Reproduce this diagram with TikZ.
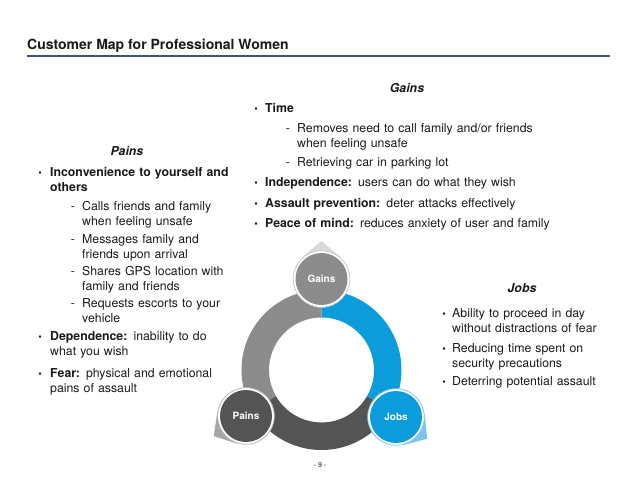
\documentclass[tikz,border=0pt]{standalone}
\usepackage{fontspec}
\setmainfont{TeX Gyre Heros}
\usepackage{xcolor}
\usepackage{tikz}
\definecolor{rulecol}{HTML}{3A5575}
\definecolor{textcol}{HTML}{1A1A1A}
\definecolor{jobsblue}{HTML}{0C9CDC}
\definecolor{jobslight}{HTML}{7CC4EA}
\definecolor{gainsgray}{HTML}{8C8C8C}
\definecolor{gainslight}{HTML}{D9D9D9}
\definecolor{painsdark}{HTML}{545454}
\definecolor{painslight}{HTML}{A6A6A6}

\tikzset{
  body/.style={anchor=base west, inner sep=0pt, text width=400pt, align=left,
    text=textcol, font=\fontsize{12.3}{15}\selectfont},
  bul/.style={anchor=base, inner sep=0pt, text=textcol, font=\fontsize{10}{12}\selectfont},
  dsh/.style={anchor=base, inner sep=0pt, text=textcol, font=\fontsize{12.3}{15}\selectfont},
  head/.style={anchor=base, inner sep=0pt, text=textcol,
    font=\fontsize{12.3}{15}\selectfont\bfseries\itshape},
  bubble/.style={circle, minimum size=52pt, inner sep=0pt, text=white,
    font=\fontsize{10}{12}\selectfont\bfseries},
}

\begin{document}
\begin{tikzpicture}[x=1pt, y=1pt]
    \useasboundingbox (0,0) rectangle (638,-479);

    % Title and rule
    \node[anchor=base west, inner sep=0pt, text=textcol,
      font=\fontsize{14}{17}\selectfont\bfseries] (title) at (27,-49.5)
      {Customer Map for Professional Women};
    \draw[rulecol, line width=1.5pt] (27,-56) -- (610,-56);

    % Ring segments
    \coordinate (ring) at (321.5,-370);
    \fill[jobsblue] ([shift={(90:80)}]ring) arc[start angle=90, end angle=-30, radius=80]
      -- ([shift={(-30:52.5)}]ring) arc[start angle=-30, end angle=90, radius=52.5] -- cycle;
    \fill[gainsgray] ([shift={(90:80)}]ring) arc[start angle=90, end angle=210, radius=80]
      -- ([shift={(210:52.5)}]ring) arc[start angle=210, end angle=90, radius=52.5] -- cycle;
    \fill[painsdark] ([shift={(210:80)}]ring) arc[start angle=210, end angle=330, radius=80]
      -- ([shift={(330:52.5)}]ring) arc[start angle=330, end angle=210, radius=52.5] -- cycle;

    % Bubble centres
    \coordinate (cg) at (321.5,-279);
    \coordinate (cp) at (246,-416);
    \coordinate (cj) at (396,-417);

    % Pointers
    \fill[gainslight] ([shift={(90:38)}]cg) -- ([shift={(130:29)}]cg) -- (cg)
      -- ([shift={(50:29)}]cg) -- cycle;
    \fill[painslight] ([shift={(212:38)}]cp) -- ([shift={(252:29)}]cp) -- (cp)
      -- ([shift={(172:29)}]cp) -- cycle;
    \fill[jobslight] ([shift={(-35:38)}]cj) -- ([shift={(5:29)}]cj) -- (cj)
      -- ([shift={(-75:29)}]cj) -- cycle;

    % Bubbles
    \filldraw[fill=white, draw=gray!45, line width=0.8pt] (cg) circle (28.3);
    \filldraw[fill=white, draw=gray!55, line width=0.8pt] (cp) circle (28.3);
    \filldraw[fill=white, draw=jobslight, line width=0.8pt] (cj) circle (28.3);
    \node[bubble, fill=gainsgray] (gains) at (cg) {Gains};
    \node[bubble, fill=painsdark] (pains) at (cp) {Pains};
    \node[bubble, fill=jobsblue] (jobs) at (cj) {Jobs};

    % Gains
    \node[head] (gainshead) at (407,-92.3) {Gains};
    \node[bul] (gb1) at (256,-112) {\textbullet};
    \node[body] (g1) at (265,-112) {\textbf{Time}};
    \node[dsh] (gd1) at (288,-132.3) {-};
    \node[body] (g11) at (297,-132.3) {Removes need to call family and/or friends\\when feeling unsafe};
    \node[dsh] (gd2) at (288,-166.7) {-};
    \node[body] (g12) at (297,-166.7) {Retrieving car in parking lot};
    \node[bul] (gb2) at (256,-186.3) {\textbullet};
    \node[body] (g2) at (265,-186.3) {\textbf{Independence:} users can do what they wish};
    \node[bul] (gb3) at (256,-207.3) {\textbullet};
    \node[body] (g3) at (265,-207.3) {\textbf{Assault prevention:} deter attacks effectively};
    \node[bul] (gb4) at (256,-227.3) {\textbullet};
    \node[body] (g4) at (265,-227.3) {\textbf{Peace of mind:} reduces anxiety of user and family};

    % Pains
    \node[head] (painshead) at (127,-155.7) {Pains};
    \node[bul] (pb1) at (40,-176) {\textbullet};
    \node[body] (p1) at (50,-176) {\textbf{Inconvenience to yourself and}\\\textbf{others}};
    \node[dsh] (pd1) at (73,-210.7) {-};
    \node[body] (p11) at (82,-210.7) {Calls friends and family\\when feeling unsafe};
    \node[dsh] (pd2) at (73,-243) {-};
    \node[body] (p12) at (82,-243) {Messages family and\\friends upon arrival};
    \node[dsh] (pd3) at (73,-275) {-};
    \node[body] (p13) at (82,-275) {Shares GPS location with\\family and friends};
    \node[dsh] (pd4) at (73,-307) {-};
    \node[body] (p14) at (82,-307) {Requests escorts to your\\vehicle};
    \node[bul] (pb2) at (40,-340.7) {\textbullet};
    \node[body] (p2) at (50,-340.7) {\textbf{Dependence:} inability to do\\what you wish};
    \node[bul] (pb3) at (40,-377) {\textbullet};
    \node[body] (p3) at (50,-377) {\textbf{Fear:} physical and emotional\\pains of assault};

    % Jobs
    \node[head] (jobshead) at (522,-292) {Jobs};
    \node[bul] (jb1) at (444,-317.3) {\textbullet};
    \node[body] (j1) at (452,-317.3) {Ability to proceed in day\\without distractions of fear};
    \node[bul] (jb2) at (444,-352.3) {\textbullet};
    \node[body] (j2) at (452,-352.3) {Reducing time spent on\\security precautions};
    \node[bul] (jb3) at (444,-385) {\textbullet};
    \node[body] (j3) at (452,-385) {Deterring potential assault};

    % Page number
    \node[inner sep=0pt, text=textcol, font=\fontsize{7}{8}\selectfont] (pagenum) at (320,-465) {- 9 -};
\end{tikzpicture}
\end{document}
